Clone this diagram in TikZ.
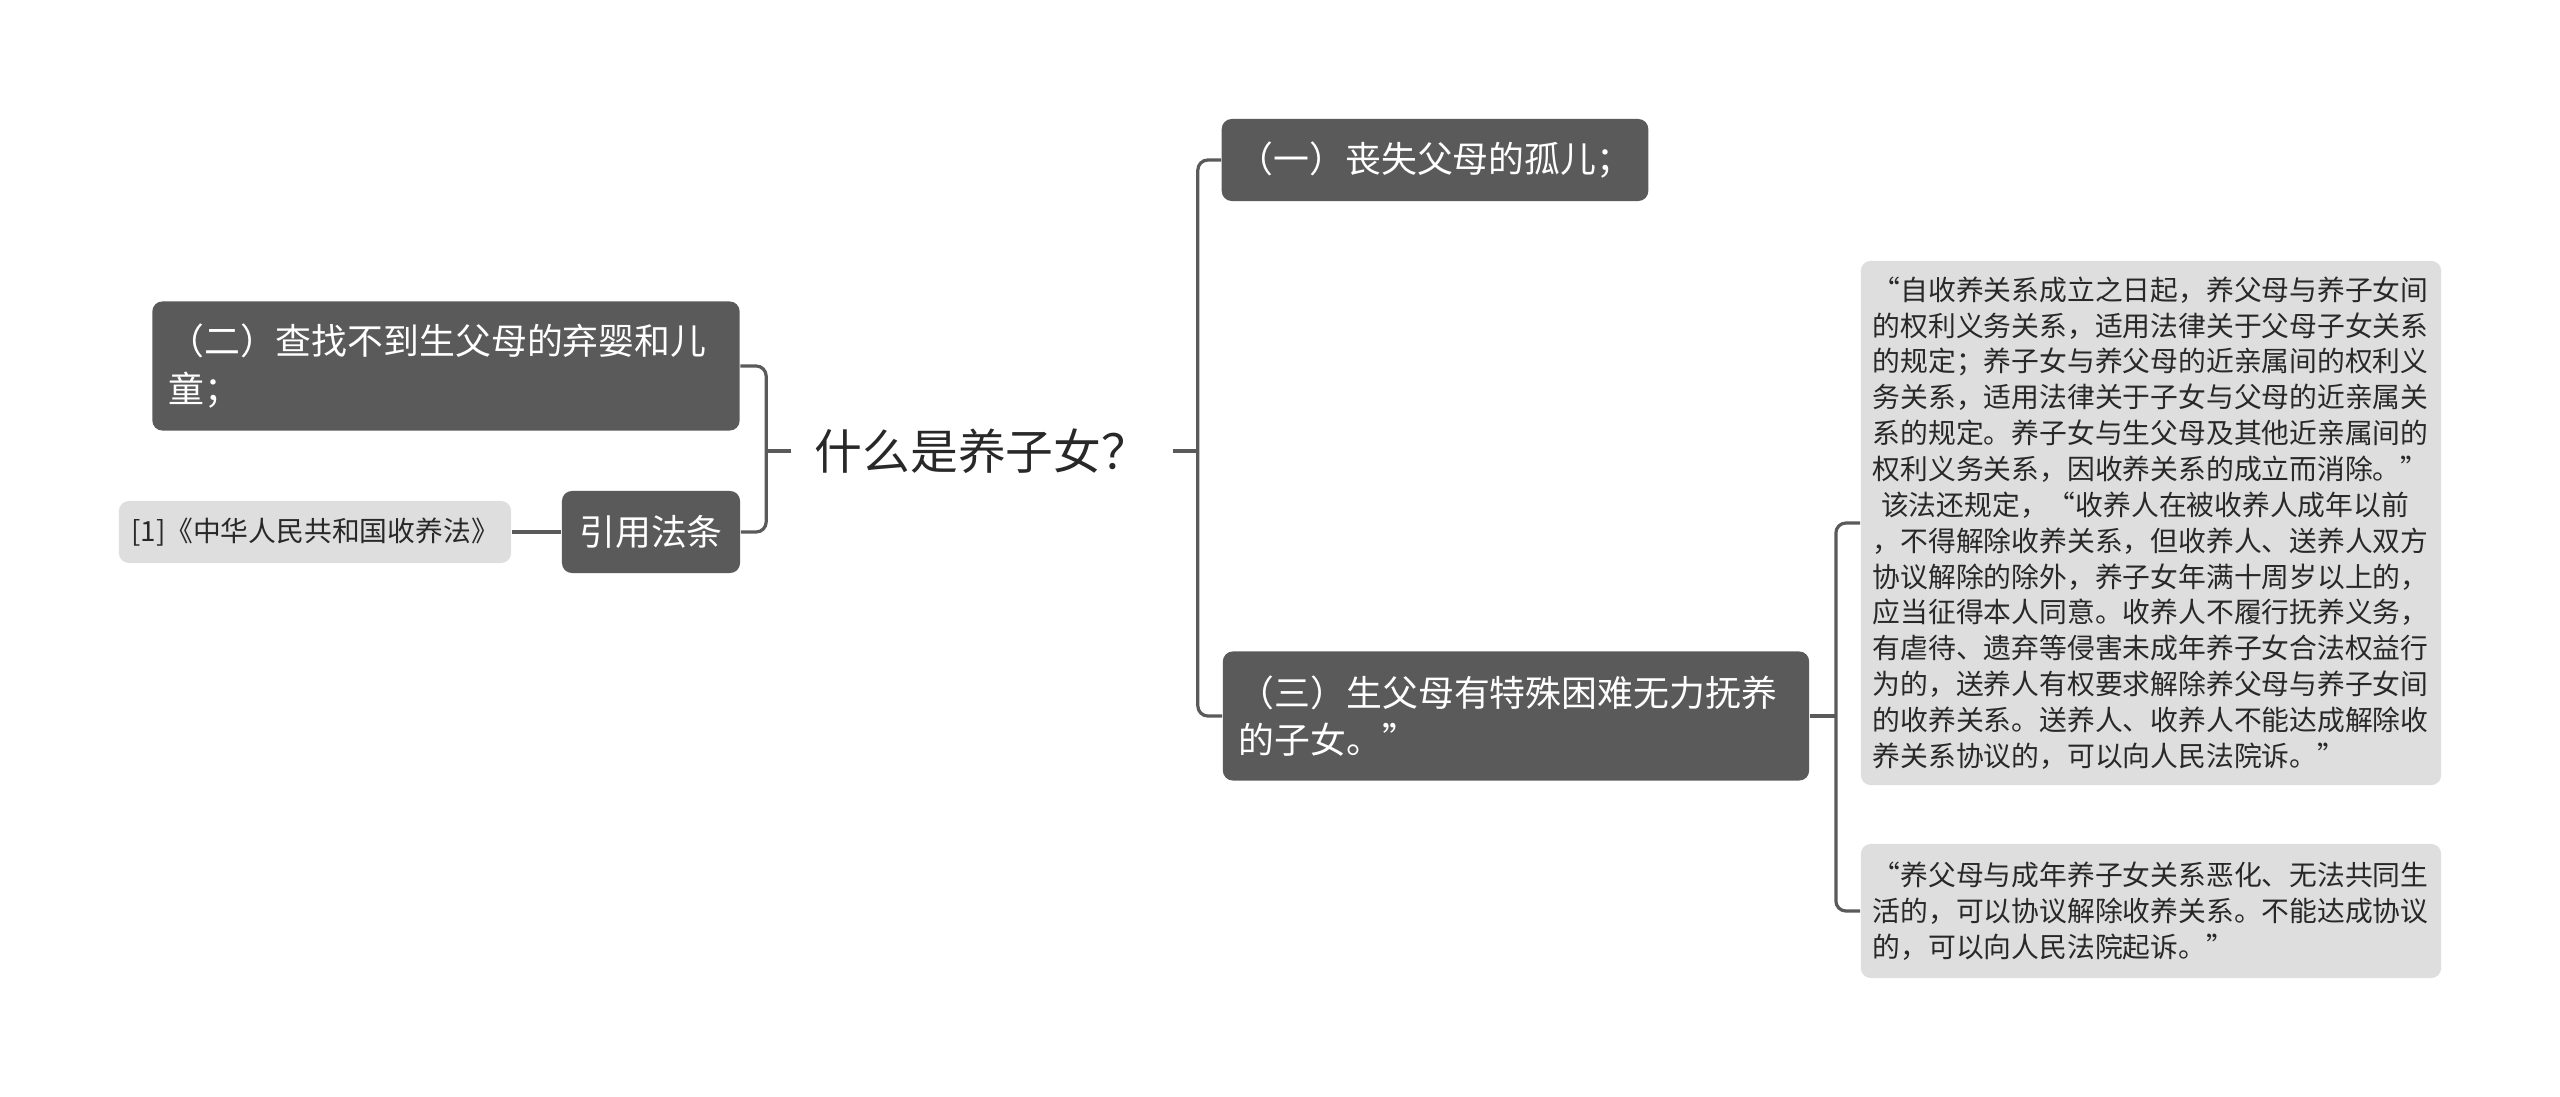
\documentclass[tikz,border=0pt]{standalone}
\usepackage{fontspec}
\newfontfamily\cjk{Noto Sans CJK SC}
\usetikzlibrary{positioning}
\definecolor{boxgray}{RGB}{90,90,90}
\definecolor{notegray}{RGB}{222,222,222}
\definecolor{inkgray}{RGB}{40,40,40}

\begin{document}
\begin{tikzpicture}[
            x=0.01cm, y=-0.01cm,
            topic/.style={fill=boxgray, text=white, rounded corners=0.1cm, inner xsep=0.16cm, inner ysep=0pt, font=\cjk\fontsize{10.2pt}{13.4pt}\selectfont},
            note/.style={fill=notegray, text=inkgray, rounded corners=0.1cm, inner xsep=0.12cm, inner ysep=0pt, align=left, font=\cjk\fontsize{7.9pt}{10.2pt}\selectfont},
            link/.style={draw=boxgray, line width=0.032cm, rounded corners=0.1cm}
        ]
            \useasboundingbox (0,0) rectangle (2560,1097);
            % central question
            \node[text=inkgray, inner xsep=0.227cm, font=\cjk\fontsize{13.6pt}{16pt}\selectfont] (root) at (982,451) {什么是养子女？};
            % right branch
            \node[topic, minimum width=4.25cm, minimum height=0.82cm] (orphan) at (1435,160) {（一）丧失父母的孤儿；};
            \node[topic, text width=5.54cm, align=left, minimum height=1.29cm] (hardship) at (1516,716) {
                （三）生父母有特殊困难无力抚养\\的子女。”
            };
            % quotes of the law
            \node[note, text width=5.56cm, minimum height=5.24cm] (quoteA) at (2151,523) {
                “自收养关系成立之日起，养父母与养子女间\\
                的权利义务关系，适用法律关于父母子女关系\\
                的规定；养子女与养父母的近亲属间的权利义\\
                务关系，适用法律关于子女与父母的近亲属关\\
                系的规定。养子女与生父母及其他近亲属间的\\
                权利义务关系，因收养关系的成立而消除。”\\
                \hspace*{0.3em}该法还规定，“收养人在被收养人成年以前\\
                ，不得解除收养关系，但收养人、送养人双方\\
                协议解除的除外，养子女年满十周岁以上的，\\
                应当征得本人同意。收养人不履行抚养义务，\\
                有虐待、遗弃等侵害未成年养子女合法权益行\\
                为的，送养人有权要求解除养父母与养子女间\\
                的收养关系。送养人、收养人不能达成解除收\\
                养关系协议的，可以向人民法院诉。”
            };
            \node[note, text width=5.56cm, minimum height=1.34cm] (quoteB) at (2151,911) {
                “养父母与成年养子女关系恶化、无法共同生\\
                活的，可以协议解除收养关系。不能达成协议\\
                的，可以向人民法院起诉。”
            };
            % left branch
            \node[topic, text width=5.55cm, align=left, minimum height=1.29cm] (foundling) at (446,366) {
                （二）查找不到生父母的弃婴和儿\\童；
            };
            \node[topic, minimum width=1.78cm, minimum height=0.82cm] (law) at (651,532) {引用法条};
            \node[note, minimum width=3.92cm, minimum height=0.62cm] (lawref) at (315,532) {[1]《中华人民共和国收养法》};

            % connectors
            \coordinate[right=0.25cm of root.east] (rjoin);
            \coordinate[left=0.25cm of root.west] (ljoin);
            \coordinate[right=0.26cm of hardship.east] (qjoin);
            \draw[link] (root.east) -- (rjoin);
            \draw[link] (orphan.west) -| (rjoin) |- (hardship.west);
            \draw[link] (root.west) -- (ljoin);
            \draw[link] (foundling.east) -| (ljoin) |- (law.east);
            \draw[link] (law.west) -- (lawref.east);
            \draw[link] (hardship.east) -- (qjoin);
            \draw[link] (quoteA.west) -| (qjoin) |- (quoteB.west);
        \end{tikzpicture}
\end{document}
